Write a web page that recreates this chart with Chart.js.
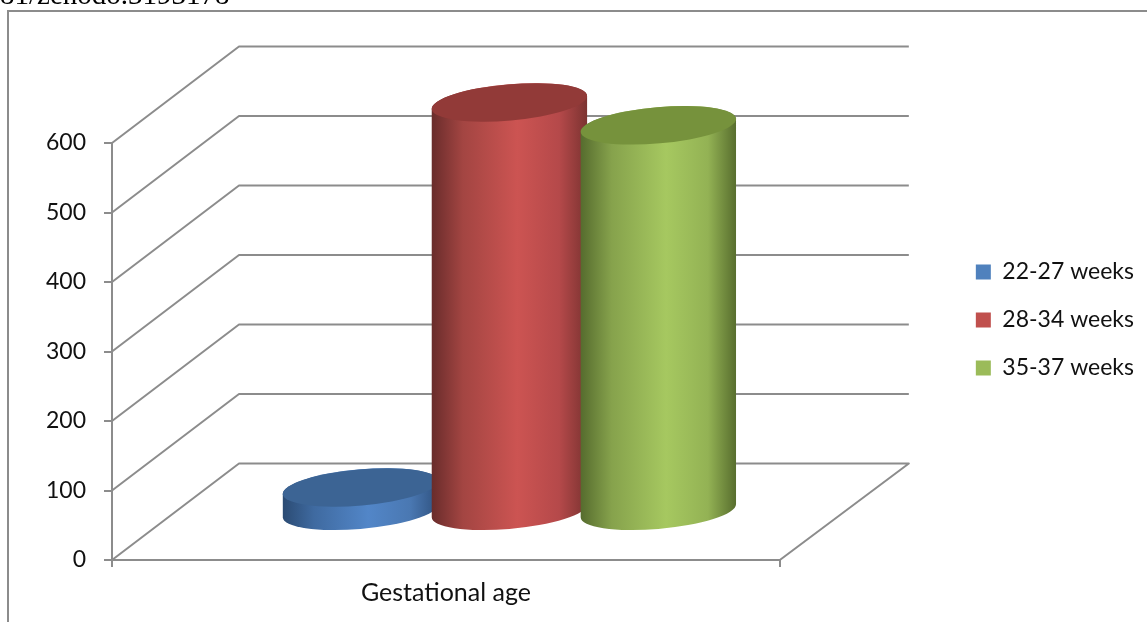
<!DOCTYPE html>
<html>
<head>
<meta charset="utf-8">
<title>Gestational age</title>
<script src="https://cdn.jsdelivr.net/npm/chart.js@4"></script>
<style>
  html, body { margin: 0; padding: 0; background: #fff; overflow: hidden; }
  canvas { display: block; }
</style>
</head>
<body>
<canvas id="chart" width="1147" height="622"></canvas>
<script>
const categories = ['Gestational age'];
const seriesNames = ['22-27 weeks', '28-34 weeks', '35-37 weeks'];
const earlyValues = [35];
const middleValues = [589];
const lateValues = [556];
const yTicks = [0, 100, 200, 300, 400, 500, 600];

const legendColors = ['#4f81bd', '#c0504d', '#9bbb59'];
const capColors = ['#3c6494', '#923a38', '#76923c'];
// left edge, shoulder, highlight, right shoulder, right edge
const bodyShades = [
  ['#2b4b73', '#3f6aa0', '#5286c8', '#4a78b2', '#2f5280'],
  ['#692c2b', '#a34542', '#cc5452', '#b5494a', '#7c3331'],
  ['#566c2e', '#86a24c', '#a6c860', '#93b254', '#586e2e']
];
const lineColor = '#8c8c8c';

// how far the back wall sits behind the front plane
const depthX = 127;
const depthY = 96.5;
const tilt = -5 * Math.PI / 180;
const capRatio = 0.232;

const wallPlugin = {
  id: 'wall',
  beforeDraw(chart) {
    const ctx = chart.ctx;
    // sheet frame and the line of text cut off above it
    ctx.save();
    ctx.fillStyle = '#fff';
    ctx.fillRect(0, 0, chart.width, chart.height);
    ctx.strokeStyle = lineColor;
    ctx.lineWidth = 2;
    ctx.beginPath();
    ctx.moveTo(8, chart.height);
    ctx.lineTo(8, 11);
    ctx.lineTo(chart.width, 11);
    ctx.stroke();
    ctx.fillStyle = '#000';
    ctx.font = '29px "Liberation Serif"';
    ctx.textBaseline = 'alphabetic';
    ctx.fillText('81/zenodo.3193178', 0, 4);
    ctx.restore();
  },
  beforeDatasetsDraw(chart) {
    const ctx = chart.ctx;
    const yScale = chart.scales.y;
    const left = chart.chartArea.left;
    const right = chart.chartArea.right;
    ctx.save();
    ctx.strokeStyle = lineColor;
    ctx.lineWidth = 2;
    ctx.lineJoin = 'round';
    yTicks.forEach(tick => {
      const py = yScale.getPixelForValue(tick);
      ctx.beginPath();
      ctx.moveTo(left, py);
      ctx.lineTo(left + depthX, py - depthY);
      ctx.lineTo(right + depthX + 2, py - depthY);
      if (tick === 0) ctx.lineTo(right, py);
      ctx.stroke();
    });
    ctx.restore();

    chart.data.datasets.forEach((ds, i) => {
      chart.getDatasetMeta(i).data.forEach(bar => drawCylinder(ctx, bar, i));
    });
    return false; // cylinders replace the flat bars
  }
};

function drawCylinder(ctx, bar, i) {
  const cx = bar.x + depthX / 2;
  const rx = bar.width / 2;
  const ry = rx * capRatio;
  const topY = bar.y - depthY / 2;
  const baseY = bar.base - depthY / 2;

  // ellipse angle where the tilted outline is widest
  const side = Math.atan2(-ry * Math.sin(tilt), rx * Math.cos(tilt));
  const edgeX = rx * Math.cos(side) * Math.cos(tilt) - ry * Math.sin(side) * Math.sin(tilt);
  const edgeY = rx * Math.cos(side) * Math.sin(tilt) + ry * Math.sin(side) * Math.cos(tilt);

  const grad = ctx.createLinearGradient(cx - edgeX, 0, cx + edgeX, 0);
  const shades = bodyShades[i];
  grad.addColorStop(0, shades[0]);
  grad.addColorStop(0.2, shades[1]);
  grad.addColorStop(0.55, shades[2]);
  grad.addColorStop(0.82, shades[3]);
  grad.addColorStop(1, shades[4]);

  ctx.save();
  ctx.beginPath();
  ctx.moveTo(cx - edgeX, topY - edgeY);
  ctx.lineTo(cx - edgeX, baseY - edgeY);
  ctx.ellipse(cx, baseY, rx, ry, tilt, side + Math.PI, side, true);
  ctx.lineTo(cx + edgeX, topY + edgeY);
  ctx.ellipse(cx, topY, rx, ry, tilt, side, side + Math.PI, true);
  ctx.closePath();
  ctx.fillStyle = grad;
  ctx.fill();

  ctx.beginPath();
  ctx.ellipse(cx, topY, rx, ry, tilt, 0, Math.PI * 2);
  ctx.fillStyle = capColors[i];
  ctx.fill();
  ctx.restore();
}

Chart.defaults.font.family = 'Lato';
Chart.defaults.font.size = 23;
Chart.defaults.color = '#111';

new Chart(document.getElementById('chart'), {
  type: 'bar',
  data: {
    labels: categories,
    datasets: [
      { label: seriesNames[0], data: earlyValues, backgroundColor: legendColors[0] },
      { label: seriesNames[1], data: middleValues, backgroundColor: legendColors[1] },
      { label: seriesNames[2], data: lateValues, backgroundColor: legendColors[2] }
    ]
  },
  options: {
    responsive: false,
    animation: false,
    categoryPercentage: 0.669,
    barPercentage: 1.047,
    layout: { padding: { top: 18, right: 6 } },
    plugins: {
      tooltip: { enabled: false },
      legend: {
        position: 'right',
        labels: { boxWidth: 15, boxHeight: 15, padding: 25, color: '#111' }
      }
    },
    scales: {
      x: {
        grid: { drawOnChartArea: false, tickLength: 7, color: lineColor, lineWidth: 2 },
        border: { color: lineColor, width: 2 },
        ticks: { padding: 11, color: '#111', font: { size: 25 } },
        afterFit: scale => { scale.height = 62; }
      },
      y: {
        min: 0,
        max: 600,
        grid: { drawOnChartArea: false, tickLength: 8, color: lineColor, lineWidth: 2 },
        border: { color: lineColor, width: 2 },
        ticks: { stepSize: 100, padding: 18, color: '#111' },
        afterFit: scale => { scale.width = 112; }
      },
      // empty axes that hold the plot clear of the legend and the top margin
      rightGap: {
        position: 'right',
        display: true,
        grid: { display: false },
        border: { display: false },
        ticks: { display: false },
        afterFit: scale => { scale.width = 171; }
      },
      topGap: {
        type: 'category',
        position: 'top',
        display: true,
        grid: { display: false },
        border: { display: false },
        ticks: { display: false },
        afterFit: scale => { scale.height = 125; }
      }
    }
  },
  plugins: [wallPlugin]
});
</script>
</body>
</html>
